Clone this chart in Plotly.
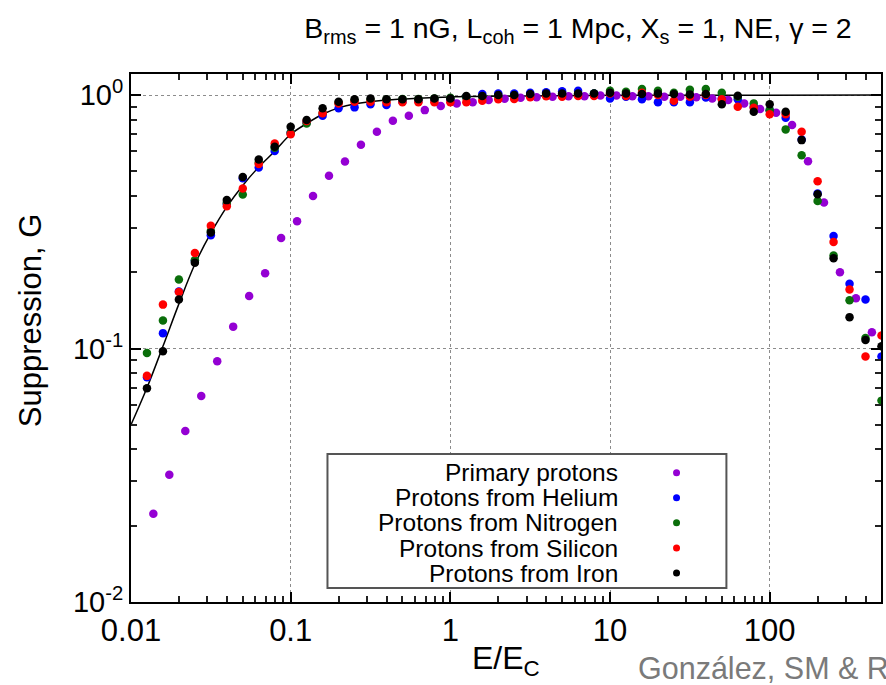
import plotly.graph_objects as go

# ---------------- data ----------------
# log10(E/Ec) positions of the primary-proton points
x_primary_log = [-1.86, -1.76, -1.66, -1.56, -1.46, -1.36, -1.26, -1.16, -1.06, -0.96,
                 -0.86, -0.76, -0.66, -0.56, -0.46, -0.36, -0.26, -0.16, -0.06, 0.04,
                 0.14, 0.24, 0.34, 0.44, 0.54, 0.64, 0.74, 0.84, 0.94, 1.04,
                 1.14, 1.24, 1.34, 1.44, 1.54, 1.64, 1.74, 1.84, 1.94, 2.04,
                 2.14, 2.24, 2.34, 2.44, 2.54, 2.64]
g_primary = [0.0223, 0.0318, 0.0473, 0.065, 0.089, 0.122, 0.161, 0.198, 0.273, 0.318,
             0.40, 0.48, 0.547, 0.637, 0.716, 0.792, 0.828, 0.872, 0.905, 0.927,
             0.936, 0.955, 0.967, 0.975, 0.98, 0.985, 0.99, 0.99, 0.995, 0.995,
             0.99, 0.99, 0.985, 0.985, 0.98, 0.97, 0.955, 0.927, 0.88, 0.851,
             0.761, 0.548, 0.377, 0.200, 0.158, 0.116]

# log10(E/Ec) positions of the secondary-proton points
x_sec_log = [-1.9, -1.8, -1.7, -1.6, -1.5, -1.4, -1.3, -1.2, -1.1, -1.0,
             -0.9, -0.8, -0.7, -0.6, -0.5, -0.4, -0.3, -0.2, -0.1, 0.0,
             0.1, 0.2, 0.3, 0.4, 0.5, 0.6, 0.7, 0.8, 0.9, 1.0,
             1.1, 1.2, 1.3, 1.4, 1.5, 1.6, 1.7, 1.8, 1.9, 2.0,
             2.1, 2.2, 2.3, 2.4, 2.5, 2.6, 2.7]
g_helium = [0.077, 0.115, 0.168, 0.222, 0.280, 0.372, 0.470, 0.518, 0.601, 0.710,
            0.780, 0.828, 0.886, 0.894, 0.919, 0.913, 0.940, 0.950, 0.955, 0.960,
            0.980, 1.009, 1.015, 1.015, 1.021, 1.026, 1.036, 1.040, 1.015, 0.970,
            0.985, 0.962, 0.936, 0.936, 0.936, 0.979, 0.970, 0.962, 0.900, 0.870,
            0.813, 0.668, 0.409, 0.278, 0.180, 0.156, 0.093]
g_nitrogen = [0.096, 0.129, 0.187, 0.223, 0.291, 0.375, 0.405, 0.540, 0.620, 0.710,
              0.773, 0.850, 0.930, 0.950, 0.955, 0.960, 0.965, 0.965, 0.970, 0.975,
              0.980, 0.985, 0.990, 0.995, 1.000, 1.000, 1.005, 1.010, 1.015, 1.040,
              1.030, 1.056, 1.040, 1.021, 1.050, 1.056, 1.021, 0.985, 0.927, 0.870,
              0.732, 0.579, 0.382, 0.233, 0.155, 0.110, 0.0623]
g_silicon = [0.078, 0.149, 0.167, 0.238, 0.305, 0.364, 0.428, 0.534, 0.644, 0.701,
             0.790, 0.847, 0.927, 0.940, 0.940, 0.936, 0.936, 0.936, 0.936, 0.936,
             0.936, 0.950, 0.962, 0.965, 0.980, 0.990, 0.985, 0.991, 0.991, 1.015,
             0.991, 1.021, 1.000, 0.950, 0.985, 1.000, 0.962, 0.899, 0.890, 0.839,
             0.840, 0.716, 0.457, 0.263, 0.171, 0.093, 0.1125]
g_iron = [0.0697, 0.0976, 0.156, 0.218, 0.287, 0.385, 0.475, 0.557, 0.625, 0.750,
          0.797, 0.886, 0.940, 0.962, 0.970, 0.962, 0.962, 0.962, 0.970, 0.970,
          0.991, 0.991, 1.000, 1.000, 1.009, 1.015, 1.015, 1.015, 1.015, 1.021,
          1.015, 1.009, 1.015, 1.009, 1.006, 1.009, 0.919, 0.994, 0.859, 0.919,
          0.859, 0.664, 0.406, 0.227, 0.133, 0.108, 0.102]

# fitted suppression curve
x_fit_log = [-2.0, -1.9, -1.8, -1.7, -1.6, -1.5, -1.4, -1.3, -1.2, -1.1, -1.0,
             -0.9, -0.8, -0.7, -0.6, -0.4, -0.2, 0.0, 0.5, 1.0, 2.7]
g_fit = [0.050, 0.070, 0.102, 0.150, 0.215, 0.285, 0.362, 0.440, 0.520, 0.600, 0.700,
         0.772, 0.840, 0.890, 0.922, 0.955, 0.972, 0.983, 0.992, 0.997, 1.000]

series_names = ["Primary protons", "Protons from Helium", "Protons from Nitrogen",
                "Protons from Silicon", "Protons from Iron"]
series_colors = ["#9400d3", "#0000ff", "#0a6e0a", "#ff0000", "#000000"]

x_tick_vals = [0.01, 0.1, 1, 10, 100]
x_tick_text = ["0.01", "0.1", "1", "10", "100"]
y_tick_vals = [0.01, 0.1, 1]
y_tick_text = ["10<sup>-2</sup>", "10<sup>-1</sup>", "10<sup>0</sup>"]
minor_mult = [2, 3, 4, 5, 6, 7, 8, 9]

# ---------------- figure ----------------
FONT = "Liberation Sans, Arial, Helvetica, sans-serif"
W, H = 886, 685
L, R, T, B = 131, 3, 74, 83
PW, PH = W - L - R, H - T - B


def px_x(px):
    return (px - L) / PW


def px_y(py):
    return (H - B - py) / PH


fig = go.Figure()

fig.add_trace(go.Scatter(
    x=[10 ** v for v in x_fit_log], y=g_fit, mode="lines",
    line=dict(color="black", width=1.5, shape="spline"), showlegend=False,
    hoverinfo="skip"))

sec = [g_helium, g_nitrogen, g_silicon, g_iron]
fig.add_trace(go.Scatter(
    x=[10 ** v for v in x_primary_log], y=g_primary, mode="markers",
    marker=dict(color=series_colors[0], size=8.5), name=series_names[0],
    showlegend=False))
for i, ys in enumerate(sec):
    fig.add_trace(go.Scatter(
        x=[10 ** v for v in x_sec_log], y=ys, mode="markers",
        marker=dict(color=series_colors[i + 1], size=8.5), name=series_names[i + 1],
        showlegend=False))

minor_x = [m * 10 ** e for e in (-2, -1, 0, 1, 2) for m in minor_mult if m * 10 ** e < 500]
minor_y = [m * 10 ** e for e in (-2, -1, 0) for m in minor_mult if m * 10 ** e < 1.2]

axis_common = dict(
    type="log", showline=True, linecolor="black", linewidth=2, mirror="allticks",
    ticks="inside", ticklen=10, tickwidth=1.8, tickcolor="black",
    showgrid=True, gridcolor="#8c8c8c", gridwidth=1.2, griddash="dot",
    zeroline=False, tickmode="array",
)
fig.update_xaxes(**axis_common, range=[-2, 2.697],
                 tickvals=x_tick_vals, ticktext=x_tick_text,
                 tickfont=dict(family=FONT, size=31, color="black"),
                 minor=dict(tickmode="array", tickvals=minor_x, ticks="inside", ticklen=6,
                            tickwidth=1.8, tickcolor="#222222", showgrid=False))
fig.update_yaxes(**axis_common, range=[-2, 0.083],
                 tickvals=y_tick_vals, ticktext=y_tick_text,
                 tickfont=dict(family=FONT, size=29, color="black"),
                 minor=dict(tickmode="array", tickvals=minor_y, ticks="inside", ticklen=6,
                            tickwidth=1.8, tickcolor="#222222", showgrid=False))

shapes = [dict(type="rect", xref="paper", yref="paper",
               x0=px_x(328), x1=px_x(728), y0=px_y(588), y1=px_y(454),
               line=dict(color="#555555", width=2), fillcolor="white", layer="above")]
annotations = []
rows = [472.7, 497.7, 522.7, 548, 573]
for name, col, ry in zip(series_names, series_colors, rows):
    annotations.append(dict(x=px_x(621), y=px_y(ry), xref="paper", yref="paper",
                            text=name, showarrow=False, xanchor="right", yanchor="middle",
                            font=dict(family=FONT, size=24.5, color="black")))
    shapes.append(dict(type="circle", xref="paper", yref="paper",
                       xsizemode="pixel", ysizemode="pixel",
                       xanchor=px_x(678), yanchor=px_y(ry),
                       x0=-3.5, x1=3.5, y0=-3.5, y1=3.5,
                       fillcolor=col, line=dict(width=0), layer="above"))

annotations += [
    dict(x=px_x(30), y=px_y(320), xref="paper", yref="paper", text="Suppression, G",
         textangle=-90, showarrow=False, xanchor="center", yanchor="middle",
         font=dict(family=FONT, size=31, color="black")),
    dict(x=px_x(507), y=px_y(660), xref="paper", yref="paper", text="E/E<sub>C</sub>",
         showarrow=False, xanchor="center", yanchor="middle",
         font=dict(family=FONT, size=32, color="black")),
    dict(x=px_x(637), y=px_y(668), xref="paper", yref="paper", text="González, SM & R",
         showarrow=False, xanchor="left", yanchor="middle",
         font=dict(family=FONT, size=30.5, color="#7a7a7a")),
]

fig.update_layout(
    width=W, height=H, margin=dict(l=L, r=R, t=T, b=B),
    paper_bgcolor="white", plot_bgcolor="white",
    title=dict(text="B<sub>rms</sub> = 1 nG, L<sub>coh</sub> = 1 Mpc, X<sub>s</sub> = 1, NE, γ = 2",
               x=578 / W, y=1 - 28 / H, xref="container", yref="container",
               xanchor="center", yanchor="middle",
               font=dict(family=FONT, size=28.5, color="black")),
    shapes=shapes, annotations=annotations, showlegend=False,
)

fig.write_html("out.html")
